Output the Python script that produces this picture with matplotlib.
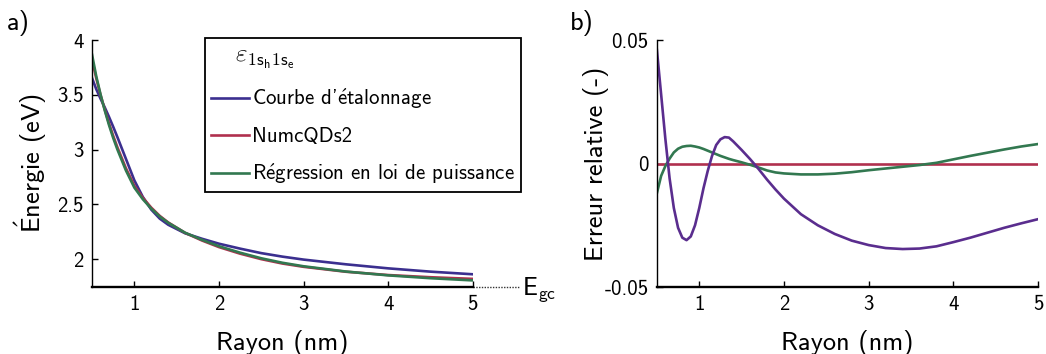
import matplotlib
matplotlib.use('Agg')
import matplotlib.pyplot as plt

plt.rcParams['font.family'] = ['cmss10', 'DejaVu Sans']
plt.rcParams['mathtext.fontset'] = 'cm'
plt.rcParams['axes.unicode_minus'] = False
plt.rcParams['axes.formatter.use_mathtext'] = False

# a) energie de transition en fonction du rayon
rayon = [0.5, 0.55, 0.6, 0.65, 0.7, 0.75, 0.8, 0.9, 1.0, 1.1, 1.2, 1.3, 1.4,
         1.6, 1.8, 2.0, 2.25, 2.5, 2.75, 3.0, 3.5, 4.0, 4.5, 5.0]
e_etalonnage = [3.652, 3.551, 3.465, 3.385, 3.299, 3.208, 3.113, 2.916, 2.719,
                2.568, 2.452, 2.370, 2.314, 2.236, 2.186, 2.141, 2.096, 2.055,
                2.023, 1.996, 1.953, 1.916, 1.886, 1.862]
e_numcqds2 = [3.82, 3.65, 3.50, 3.365, 3.24, 3.125, 3.02, 2.83, 2.67, 2.56,
              2.47, 2.395, 2.335, 2.24, 2.17, 2.11, 2.05, 2.00, 1.96, 1.93,
              1.885, 1.855, 1.835, 1.82]
e_regression = [3.866, 3.668, 3.504, 3.358, 3.225, 3.106, 3.000, 2.810, 2.653,
                2.547, 2.461, 2.389, 2.332, 2.241, 2.176, 2.118, 2.059, 2.008,
                1.967, 1.935, 1.887, 1.852, 1.826, 1.806]
EGC = 1.745

# b) erreur relative par rapport a NumcQDs2
rayon_err = [0.5, 0.55, 0.6, 0.65, 0.7, 0.75, 0.8, 0.85, 0.9, 0.95, 1.0, 1.05,
             1.1, 1.15, 1.2, 1.25, 1.3, 1.35, 1.4, 1.5, 1.6, 1.7, 1.8, 1.9,
             2.0, 2.2, 2.4, 2.6, 2.8, 3.0, 3.2, 3.4, 3.6, 3.8, 4.0, 4.2, 4.4,
             4.6, 4.8, 5.0]
err_etalonnage = [0.046, 0.028, 0.010, -0.006, -0.018, -0.026, -0.0300,
                  -0.0310, -0.0295, -0.025, -0.018, -0.010, -0.003, 0.003,
                  0.0075, 0.0098, 0.0107, 0.0105, 0.0090, 0.0055, 0.0018,
                  -0.0022, -0.0065, -0.0105, -0.0142, -0.0205, -0.0250,
                  -0.0285, -0.0312, -0.0330, -0.0342, -0.0346, -0.0344,
                  -0.0335, -0.0318, -0.0300, -0.0280, -0.0260, -0.0242,
                  -0.0225]
err_numcqds2 = [0.0] * len(rayon_err)
err_regression = [-0.012, -0.005, -0.001, 0.002, 0.0045, 0.006, 0.0068,
                  0.0071, 0.0072, 0.0069, 0.0065, 0.0059, 0.0052, 0.0045,
                  0.0038, 0.0031, 0.0025, 0.0019, 0.0014, 0.0005, -0.0005,
                  -0.0016, -0.0028, -0.0036, -0.0040, -0.0044, -0.0044,
                  -0.0041, -0.0035, -0.0027, -0.0020, -0.0013, -0.0006,
                  0.0003, 0.0017, 0.0031, 0.0044, 0.0057, 0.0069, 0.0079]

# accents poses en mathtext : cmss10 n'a pas de lettres accentuees
labels = [r"Courbe d'$\acute{\mathsf{e}}$talonnage", 'NumcQDs2',
          r'R$\acute{\mathsf{e}}$gression en loi de puissance']
c_bleu = '#3b2f8f'
c_violet = '#5a2d8e'
c_rouge = '#b0304e'
c_vert = '#327850'

fig = plt.figure(figsize=(10.46, 3.54), dpi=100)
ax1 = fig.add_axes([0.088, 0.189, 0.364, 0.698])
ax2 = fig.add_axes([0.628, 0.189, 0.3645, 0.698])

for ax in (ax1, ax2):
    ax.spines['top'].set_visible(False)
    ax.spines['right'].set_visible(False)
    ax.spines['left'].set_linewidth(1.0)
    ax.spines['bottom'].set_linewidth(1.7)
    ax.tick_params(direction='in', length=4, width=1, labelsize=15, pad=6)
    ax.set_xlim(0.5, 5)
    ax.set_xticks([1, 2, 3, 4, 5])
    ax.set_xlabel('Rayon (nm)', fontsize=19, labelpad=11)

lw = 1.9
ax1.plot(rayon, e_etalonnage, color=c_bleu, lw=lw, label=labels[0])
ax1.plot(rayon, e_numcqds2, color=c_rouge, lw=lw, label=labels[1])
ax1.plot(rayon, e_regression, color=c_vert, lw=lw, label=labels[2])
ax1.set_ylim(EGC, 4)
ax1.set_yticks([2, 2.5, 3, 3.5, 4])
ax1.set_yticklabels(['2', '2.5', '3', '3.5', '4'])
ax1.set_ylabel(r'$\acute{\mathsf{E}}$nergie (eV)', fontsize=19, labelpad=6)

# niveau de la bande interdite, prolonge hors des axes
ax1.plot([5, 5.55], [EGC, EGC], ls=(0, (1, 1)), color='#333333', lw=1.0,
         clip_on=False)
ax1.text(5.58, EGC - 0.02, r'E$_{\mathsf{gc}}$', fontsize=18, va='center',
         ha='left')

leg = ax1.legend(loc='upper left', bbox_to_anchor=(0.196, 0.893),
                 bbox_transform=fig.transFigure, fontsize=15,
                 title=r'   $\varepsilon_{\mathsf{1s}_\mathsf{h}\mathsf{1s}_\mathsf{e}}$',
                 title_fontsize=18, alignment='left', fancybox=False,
                 framealpha=1, edgecolor='black', handlelength=1.8,
                 handletextpad=0.15, labelspacing=0.75, borderpad=0.3,
                 borderaxespad=0)
leg.get_frame().set_linewidth(1.3)

ax2.plot(rayon_err, err_numcqds2, color=c_rouge, lw=lw)
ax2.plot(rayon_err, err_regression, color=c_vert, lw=lw)
ax2.plot(rayon_err, err_etalonnage, color=c_violet, lw=lw)
ax2.set_ylim(-0.05, 0.05)
ax2.set_yticks([-0.05, 0, 0.05])
ax2.set_yticklabels(['-0.05', '0', '0.05'])
ax2.set_ylabel('Erreur relative (-)', fontsize=19, labelpad=-3)

fig.text(0.007, 0.915, 'a)', fontsize=19)
fig.text(0.545, 0.915, 'b)', fontsize=19)

fig.savefig('out.png', dpi=100)
